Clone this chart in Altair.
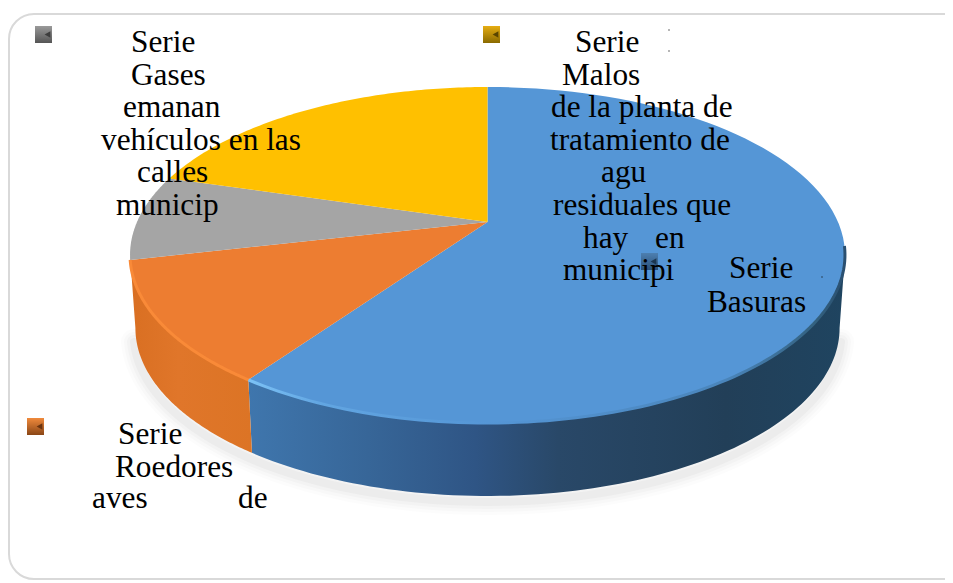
import math
import altair as alt
import pandas as pd

# ---- data ----
categories = ["Basuras", "Roedores", "Gases", "Malos"]
shares = [59.7, 11.7, 8.2, 20.4]
top_colors = ["#5596d6", "#ed7d31", "#a5a5a5", "#ffc000"]

label_lines = ["Serie", "Gases", "emanan", "vehículos en las", "calles", "municip",
               "Serie", "Malos", "de la planta de", "tratamiento de", "agu",
               "residuales que", "hay", "en", "municipi",
               "Serie", "Basuras",
               "Serie", "Roedores", "aves", "de"]
label_left = [131, 131, 123, 101, 137, 116,
              575, 562, 551, 550, 601, 553, 583, 655, 563,
              729, 707,
              118, 115, 92, 238]
label_base = [52, 85, 117, 150, 182, 215,
              52, 85, 117, 150, 182, 215, 248, 248, 280,
              278, 312,
              444, 477, 508, 508]

swatch_left = [35, 483, 27, 641]
swatch_top = [26, 26, 418, 253]
swatch_stops = [("#9a9a9a", "#555555"), ("#e6ad12", "#8a6a00"), ("#f08a3c", "#8a4616"), ("#4d7fb0", "#2a5078")]
swatch_tri = ["#3d3d3d", "#5a4500", "#6a3410", "#1b3650"]
dot_x = [669, 669, 822]
dot_y = [30, 51, 277]

# ---- layout ----
OFF = 8
CX, CY = 487.5, 222.0
A, B, K = 350.5, 161.5, 0.1964
DEPTH = 73.0
W, H = 937, 572


def pt(deg, depth=0.0, shrink=1.0):
    t = math.radians(deg)
    u, v = math.sin(t), math.cos(t)
    w = 1 + K * v
    return [CX + shrink * A * u / w - OFF, CY - B * v / w + depth - OFF]


def arc(a0, a1, depth=0.0, shrink=1.0, n=90):
    return [pt(a0 + (a1 - a0) * i / n, depth, shrink) for i in range(n + 1)]


def feat(kind, coords):
    return {"type": "Feature", "properties": {}, "geometry": {"type": kind, "coordinates": coords}}


def grad(stops, horizontal=True):
    return alt.LinearGradient(
        gradient="linear", x1=0, y1=0, x2=1 if horizontal else 0, y2=0 if horizontal else 1,
        stops=[alt.GradientStop(offset=o, color=c) for o, c in stops],
    )


def shape(f, **kw):
    return alt.Chart(alt.Data(values=[f])).mark_geoshape(**kw)


# slice boundaries, clockwise from twelve o'clock
bounds = [0.0]
for s in shares:
    bounds.append(bounds[-1] + s * 3.6)

layers = []

# chart frame
frame = alt.Chart(pd.DataFrame({"n": [0]})).mark_rect(
    fill="white", stroke="#d9d9d9", strokeWidth=2, cornerRadius=25
).encode(x=alt.value(1), x2=alt.value(960), y=alt.value(6), y2=alt.value(571))
layers.append(frame)

# soft shadow below the disc
shadow_ring = arc(104, 256, DEPTH + 6, 0.99)
for width, op in [(26, 0.025), (20, 0.03), (14, 0.04), (8, 0.05)]:
    layers.append(shape(feat("LineString", shadow_ring), filled=False, stroke="#77777f",
                        strokeWidth=width, strokeOpacity=op, strokeCap="round"))

# side walls (front half of the rim only)
right_lim, left_lim = 101.3, 258.7
wall_blue = arc(right_lim, bounds[1]) + arc(bounds[1], right_lim, DEPTH, 0.985)
wall_orange = arc(bounds[1], left_lim) + arc(left_lim, bounds[1], DEPTH, 0.985)
layers.append(shape(feat("Polygon", [wall_blue + [wall_blue[0]]]), filled=True, strokeWidth=0,
                    fill=grad([(0, "#3f76ad"), (0.2, "#376698"), (0.38, "#2f5585"),
                               (0.52, "#294868"), (0.8, "#223f58"), (1, "#1f4460")])))
layers.append(shape(feat("Polygon", [wall_orange + [wall_orange[0]]]), filled=True, strokeWidth=0,
                    fill=grad([(0, "#d96f22"), (0.4, "#e0762a"), (1, "#dc7425")])))

# top faces
apex = [CX - OFF, CY - OFF]
for i, c in enumerate(categories):
    ring = [apex] + arc(bounds[i], bounds[i + 1]) + [apex]
    layers.append(shape(feat("Polygon", [ring]), filled=True, strokeWidth=0, fill=top_colors[i]))

# rim highlight
layers.append(shape(feat("LineString", arc(right_lim - 3, bounds[1])), filled=False, strokeWidth=3,
                    stroke=grad([(0, "#7cc2f6"), (0.12, "#62a6e2"), (0.4, "#5596d6"),
                                 (0.8, "#4a85bb"), (0.95, "#33617f"), (1, "#2a4f70")])))
layers.append(shape(feat("LineString", arc(bounds[1], bounds[2])), filled=False, strokeWidth=3,
                    stroke="#f98a38"))

# legend swatches
for i in range(4):
    one = pd.DataFrame({"x": [swatch_left[i] - OFF], "x2": [swatch_left[i] + 17 - OFF],
                        "y": [swatch_top[i] - OFF], "y2": [swatch_top[i] + 17 - OFF]})
    layers.append(alt.Chart(one).mark_rect(
        fill=grad([(0, swatch_stops[i][0]), (1, swatch_stops[i][1])], horizontal=False)
    ).encode(x=alt.X("x:Q", scale=None), x2="x2:Q", y=alt.Y("y:Q", scale=None), y2="y2:Q"))
    tri = pd.DataFrame({"x": [swatch_left[i] + 12.5 - OFF], "y": [swatch_top[i] + 8.5 - OFF]})
    layers.append(alt.Chart(tri).mark_point(shape="triangle-left", filled=True, size=45, opacity=1,
                                            color=swatch_tri[i], strokeWidth=0).encode(
        x=alt.X("x:Q", scale=None), y=alt.Y("y:Q", scale=None)))

# stray dots
dots = pd.DataFrame({"x": [v - OFF for v in dot_x], "y": [v - OFF for v in dot_y]})
layers.append(alt.Chart(dots).mark_point(shape="square", filled=True, size=1.5, opacity=1,
                                         color="#111111", strokeWidth=0).encode(
    x=alt.X("x:Q", scale=None), y=alt.Y("y:Q", scale=None)))

# text
txt = pd.DataFrame({"t": label_lines, "x": [v - OFF for v in label_left], "y": [v - OFF for v in label_base]})
layers.append(alt.Chart(txt).mark_text(font="Liberation Serif", fontSize=31.3, align="left",
                                       baseline="alphabetic", color="#000000").encode(
    x=alt.X("x:Q", scale=None), y=alt.Y("y:Q", scale=None), text="t:N"))

chart = alt.layer(*layers).project(type="identity", scale=1, translate=[0, 0]).properties(
    width=W, height=H, padding=0, autosize=alt.AutoSizeParams(type="none"), background="white"
).configure_view(stroke=None)

chart.save("out.html", embed_options={"renderer": "svg", "actions": False})
